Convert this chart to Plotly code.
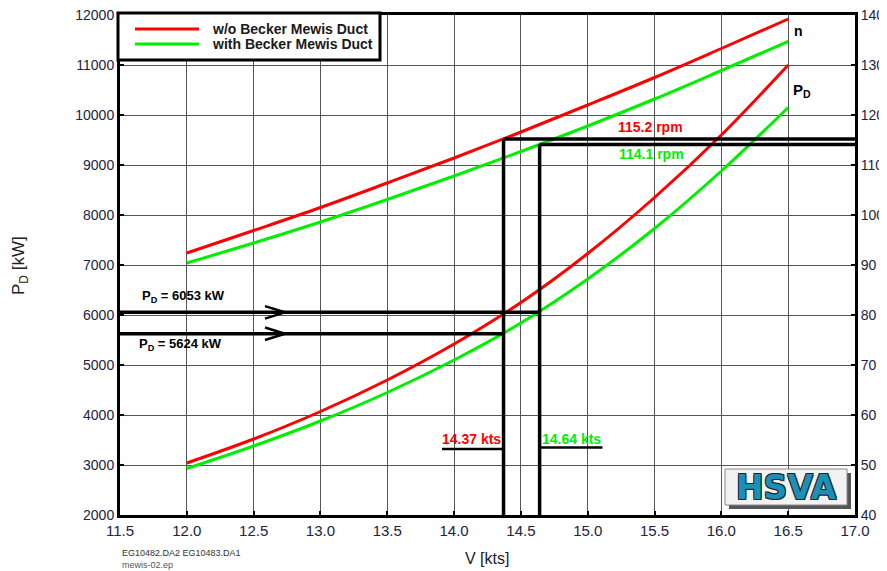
import plotly.graph_objects as go

# ---- data ----
speed_kts = [12.0, 12.5, 13.0, 13.5, 14.0, 14.5, 15.0, 15.5, 16.0, 16.5]
pd_without_kw = [3040, 3520, 4070, 4700, 5420, 6250, 7230, 8350, 9600, 11000]
pd_with_kw = [2930, 3380, 3880, 4450, 5100, 5840, 6720, 7730, 8880, 10150]
n_without_rpm = [92.4, 96.9, 101.5, 106.4, 111.4, 116.6, 122.0, 127.5, 133.3, 139.2]
n_with_rpm = [90.4, 94.4, 98.6, 103.1, 107.8, 112.7, 117.8, 123.2, 128.9, 134.7]

x_ticks = [11.5, 12.0, 12.5, 13.0, 13.5, 14.0, 14.5, 15.0, 15.5, 16.0, 16.5, 17.0]
y_ticks_kw = list(range(2000, 12001, 1000))
y_ticks_rpm = list(range(40, 141, 10))

v_without = 14.37
v_with = 14.64
pd_same = 6053
pd_with_at_v_without = 5624
n_without_op = 115.2
n_with_op = 114.1

RED = "#ff0000"
GREEN = "#00ee00"
FONT = "Liberation Sans, Arial, sans-serif"

fig = go.Figure()
fig.add_trace(go.Scatter(x=speed_kts, y=n_without_rpm, yaxis="y2", mode="lines",
                         line=dict(color=RED, width=3, shape="spline"),
                         name="w/o Becker Mewis Duct", showlegend=False))
fig.add_trace(go.Scatter(x=speed_kts, y=n_with_rpm, yaxis="y2", mode="lines",
                         line=dict(color=GREEN, width=3, shape="spline"),
                         name="with Becker Mewis Duct", showlegend=False))
fig.add_trace(go.Scatter(x=speed_kts, y=pd_without_kw, mode="lines",
                         line=dict(color=RED, width=3, shape="spline"),
                         name="w/o Becker Mewis Duct", showlegend=False))
fig.add_trace(go.Scatter(x=speed_kts, y=pd_with_kw, mode="lines",
                         line=dict(color=GREEN, width=3, shape="spline"),
                         name="with Becker Mewis Duct", showlegend=False))

blk = dict(color="black", width=3.5)
shapes = []
# horizontal power lines
shapes.append(dict(type="line", xref="x", yref="y", x0=11.5, x1=v_with, y0=pd_same, y1=pd_same, line=blk))
shapes.append(dict(type="line", xref="x", yref="y", x0=11.5, x1=v_without,
                   y0=pd_with_at_v_without, y1=pd_with_at_v_without, line=blk))
# verticals up to rpm level, then to the right edge
shapes.append(dict(type="line", xref="x", yref="y2", x0=v_without, x1=v_without, y0=40, y1=n_without_op, line=blk))
shapes.append(dict(type="line", xref="x", yref="y2", x0=v_without, x1=17.0, y0=n_without_op, y1=n_without_op, line=blk))
shapes.append(dict(type="line", xref="x", yref="y2", x0=v_with, x1=v_with, y0=40, y1=n_with_op, line=blk))
shapes.append(dict(type="line", xref="x", yref="y2", x0=v_with, x1=17.0, y0=n_with_op, y1=n_with_op, line=blk))
# underlines of speed labels
shapes.append(dict(type="line", xref="x", yref="y", x0=13.91, x1=v_without, y0=3320, y1=3320,
                   line=dict(color="black", width=2.5)))
shapes.append(dict(type="line", xref="x", yref="y", x0=v_with, x1=15.11, y0=3350, y1=3350,
                   line=dict(color="black", width=2.5)))
# chevron arrows
for yv in (pd_same, pd_with_at_v_without):
    shapes.append(dict(type="path", xref="x", yref="y",
                       path=f"M 12.585 {yv+125} L 12.735 {yv} L 12.585 {yv-125}",
                       line=dict(color="black", width=2.5)))

# helpers converting reference pixel positions to paper coords (plot area 120..855 x 15..515)
def px(xp):
    return (xp - 120) / 735
def py(yp):
    return (515 - yp) / 500

# legend box
shapes.append(dict(type="rect", xref="paper", yref="paper", x0=px(118), x1=px(380), y0=py(60), y1=py(13),
                   fillcolor="white", line=dict(color="black", width=3)))
shapes.append(dict(type="line", xref="paper", yref="paper", x0=px(135), x1=px(199), y0=py(29), y1=py(29),
                   line=dict(color=RED, width=3)))
shapes.append(dict(type="line", xref="paper", yref="paper", x0=px(135), x1=px(199), y0=py(44), y1=py(44),
                   line=dict(color=GREEN, width=3)))
# HSVA logo
shapes.append(dict(type="rect", xref="paper", yref="paper", x0=px(729), x1=px(851), y0=py(509), y1=py(473),
                   fillcolor="#555555", line=dict(width=0)))
shapes.append(dict(type="rect", xref="paper", yref="paper", x0=px(725), x1=px(847), y0=py(505), y1=py(469),
                   fillcolor="#f2f2f2", line=dict(color="#8a8a8a", width=1)))

annotations = []
def ann(text, x, y, color="black", size=12, xref="x", yref="y", xanchor="center", bold=True,
        family=FONT, textangle=0, **kw):
    annotations.append(dict(text=text, x=x, y=y, xref=xref, yref=yref, xanchor=xanchor, yanchor="middle",
                            showarrow=False, textangle=textangle,
                            font=dict(color=color, size=size, family=family,
                                      weight="bold" if bold else "normal", **kw)))

ann("w/o Becker Mewis Duct", px(210), py(29), color="#1a1a1a", size=14, xref="paper", yref="paper", xanchor="left")
ann("with Becker Mewis Duct", px(210), py(44), color="#1a1a1a", size=14, xref="paper", yref="paper", xanchor="left")
ann("n", px(792), py(31), size=14, xref="paper", yref="paper", xanchor="left")
ann("P<sub>D</sub>", px(791), py(90), size=15, xref="paper", yref="paper", xanchor="left")
ann(f"{n_without_op} rpm", 15.466, 9760, color=RED, size=14)
ann(f"{n_with_op} rpm", 15.474, 9230, color=GREEN, size=14)
ann(f"P<sub>D</sub> = {pd_same} kW", 11.65, 6380, size=13, xanchor="left")
ann(f"P<sub>D</sub> = {pd_with_at_v_without} kW", 11.63, 5420, size=13, xanchor="left")
ann(f"{v_without} kts", 14.127, 3530, color=RED, size=14)
ann(f"{v_with} kts", 14.88, 3530, color=GREEN, size=14)
ann("HSVA", px(786), py(487), color="#1a8fb8", size=33, xref="paper", yref="paper",
    family="DejaVu Sans, sans-serif",
    shadow="1px 1px 0 #222, -1px -1px 0 #222, 1px -1px 0 #222, -1px 1px 0 #222")
ann("EG10482.DA2 EG10483.DA1", px(120), py(553), color="#333333", size=9, xref="paper", yref="paper",
    xanchor="left", bold=False)
ann("mewis-02.ep", px(120), py(565), color="#555555", size=9, xref="paper", yref="paper",
    xanchor="left", bold=False)
# axis titles
ann("P<sub>D</sub> [kW]", px(20), py(265), color="#222222", size=17, xref="paper", yref="paper",
    bold=False, textangle=-90)
ann("V [kts]", px(487), py(558), color="#222222", size=16, xref="paper", yref="paper", bold=False)

axis_common = dict(showline=True, linecolor="black", linewidth=3, ticks="inside", ticklen=4,
                   tickwidth=2, tickcolor="black", zeroline=False, automargin=False,
                   ticklabeloverflow="allow")

# page body adds ~8px offset; figure sized to fit the 887x571 window
fig.update_layout(
    width=879, height=563, autosize=False,
    margin=dict(l=112, r=32, t=7, b=56),
    paper_bgcolor="white", plot_bgcolor="white",
    font=dict(family=FONT, color="#222222"),
    xaxis=dict(range=[11.5, 17.0], tickvals=x_ticks, ticktext=[f"{v:.1f}" for v in x_ticks],
               showgrid=True, gridcolor="#555555", gridwidth=1, mirror=True,
               tickfont=dict(size=15, color="#222244"), **axis_common),
    yaxis=dict(range=[2000, 12000], tickvals=y_ticks_kw, ticktext=[str(v) for v in y_ticks_kw],
               showgrid=True, gridcolor="#555555", gridwidth=1,
               mirror=True, tickfont=dict(size=14, color="#222244"), **axis_common),
    yaxis2=dict(range=[40, 140], tickvals=y_ticks_rpm, ticktext=[str(v) for v in y_ticks_rpm],
                overlaying="y", side="right", showgrid=False,
                tickfont=dict(size=14, color="#222244"), **axis_common),
    shapes=shapes,
    annotations=annotations,
    showlegend=False,
)

fig.write_html("out.html")
